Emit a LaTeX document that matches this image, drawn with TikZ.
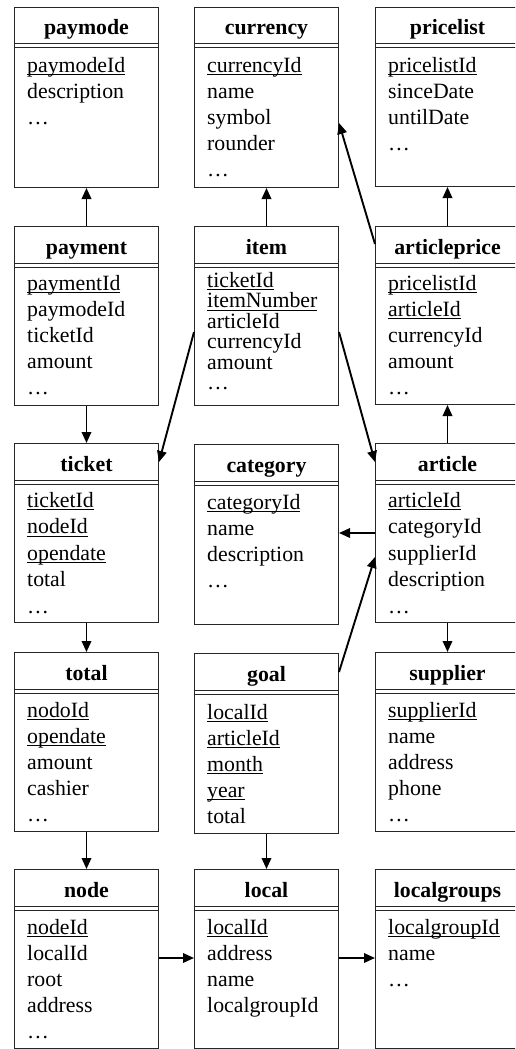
\documentclass[tikz,border=0pt]{standalone}
\usepackage{fontspec}
\setmainfont{Liberation Serif}
\usetikzlibrary{calc,arrows.meta}

% text size used in every table
\newcommand\tblfont{\fontsize{21.8}{26}\selectfont}
% primary key field: underlined at a fixed distance below the baseline
\newcommand\keyfield[1]{\setbox0\hbox{#1}\rlap{\rule[-3pt]{\wd0}{1pt}}\box0}

\tikzset{
  tbl/.style={draw=black!85, line width=1pt, rectangle, minimum width=144pt,
              inner sep=0pt, anchor=north west},
  hdr/.style={draw=black!85, line width=1pt},
  ttl/.style={font=\tblfont\bfseries, anchor=base, inner sep=0pt},
  fld/.style={font=\tblfont, anchor=base west, inner sep=0pt},
  rel/.style={-{Triangle[length=11pt,width=9.5pt]}, line width=1.9pt}
}

% #1 name, #2 x, #3 top, #4 height, #5 title, #6 line spacing,
% #7 first baseline below top, #8 fields
\newcommand\entity[8]{%
  \node[tbl, minimum height=#4pt] (#1) at (#2,#3) {};
  \draw[hdr] ($(#1.north west)+(0,37)$) -- ($(#1.north east)+(0,37)$);
  \draw[hdr] ($(#1.north west)+(0,41)$) -- ($(#1.north east)+(0,41)$);
  \node[ttl] (#1-title) at ($(#1.north)+(0,28)$) {#5};
  \foreach \ftext [count=\fidx from 0] in {#8} {
    \node[fld] (#1-f\fidx) at ($(#1.north west)+(13,#7+\fidx*#6)$) {\ftext};
  }
}

\begin{document}
\begin{tikzpicture}[x=1pt, y=-1pt]
\useasboundingbox (0,0) rectangle (515,1049);
\clip (0,0) rectangle (515,1049);

% row 1
\entity{paymode}{14}{7}{180}{paymode}{26}{65}{\keyfield{paymodeId}, description, …}
\entity{currency}{194}{7}{180}{currency}{26}{65}{\keyfield{currencyId}, name, symbol, rounder, …}
\entity{pricelist}{375}{7}{179}{pricelist}{26}{65}{\keyfield{pricelistId}, sinceDate, untilDate, …}
% row 2
\entity{payment}{14}{226}{179}{payment}{26}{64}{\keyfield{paymentId}, paymodeId, ticketId, amount, …}
\entity{item}{194}{226}{179}{item}{20.5}{61}{\keyfield{ticketId}, \keyfield{itemNumber}, articleId, currencyId, amount, …}
\entity{articleprice}{375}{226}{178}{articleprice}{26}{64}{\keyfield{pricelistId}, \keyfield{articleId}, currencyId, amount, …}
% row 3
\entity{ticket}{14}{443}{179}{ticket}{26.5}{64}{\keyfield{ticketId}, \keyfield{nodeId}, \keyfield{opendate}, total, …}
\entity{category}{194}{444}{180}{category}{26}{65}{\keyfield{categoryId}, name, description, …}
\entity{article}{375}{443}{179}{article}{26.5}{64}{\keyfield{articleId}, categoryId, supplierId, description, …}
% row 4
\entity{total}{14}{652}{179}{total}{26}{65}{\keyfield{nodoId}, \keyfield{opendate}, amount, cashier, …}
\entity{goal}{194}{653}{180}{goal}{26}{66}{\keyfield{localId}, \keyfield{articleId}, \keyfield{month}, \keyfield{year}, total}
\entity{supplier}{375}{652}{179}{supplier}{26}{65}{\keyfield{supplierId}, name, address, phone, …}
% row 5
\entity{nodetab}{14}{869}{179}{node}{26}{65}{\keyfield{nodeId}, localId, root, address, …}
\entity{local}{194}{869}{179}{local}{26}{65}{\keyfield{localId}, address, name, localgroupId}
\entity{localgroups}{375}{869}{179}{localgroups}{26}{65}{\keyfield{localgroupId}, name, …}

% relations
\draw[rel] (payment.north) -- (paymode.south);
\draw[rel] (item.north) -- (currency.south);
\draw[rel] ($(articleprice.north west)+(0,18)$) -- ($(currency.north east)+(0,116)$);
\draw[rel] (articleprice.north) -- (pricelist.south);
\draw[rel] (payment.south) -- (ticket.north);
\draw[rel] ($(item.north west)+(0,106)$) -- ($(ticket.north east)+(0,19)$);
\draw[rel] ($(item.north east)+(0,106)$) -- ($(article.north west)+(0,19)$);
\draw[rel] (article.north) -- (articleprice.south);
\coordinate (catlink) at ($(article.north west)+(0,90)$);
\draw[rel] (catlink) -- (catlink -| category.east);
\draw[rel] ($(goal.north east)+(0,19)$) -- ($(article.north west)+(0,114)$);
\draw[rel] (article.south) -- (supplier.north);
\draw[rel] (ticket.south) -- (total.north);
\draw[rel] (total.south) -- (nodetab.north);
\draw[rel] (goal.south) -- (local.north);
\coordinate (nodelink) at ($(nodetab.north east)+(0,89)$);
\draw[rel] (nodelink) -- (nodelink -| local.west);
\coordinate (locallink) at ($(local.north east)+(0,89)$);
\draw[rel] (locallink) -- (locallink -| localgroups.west);
\end{tikzpicture}
\end{document}
